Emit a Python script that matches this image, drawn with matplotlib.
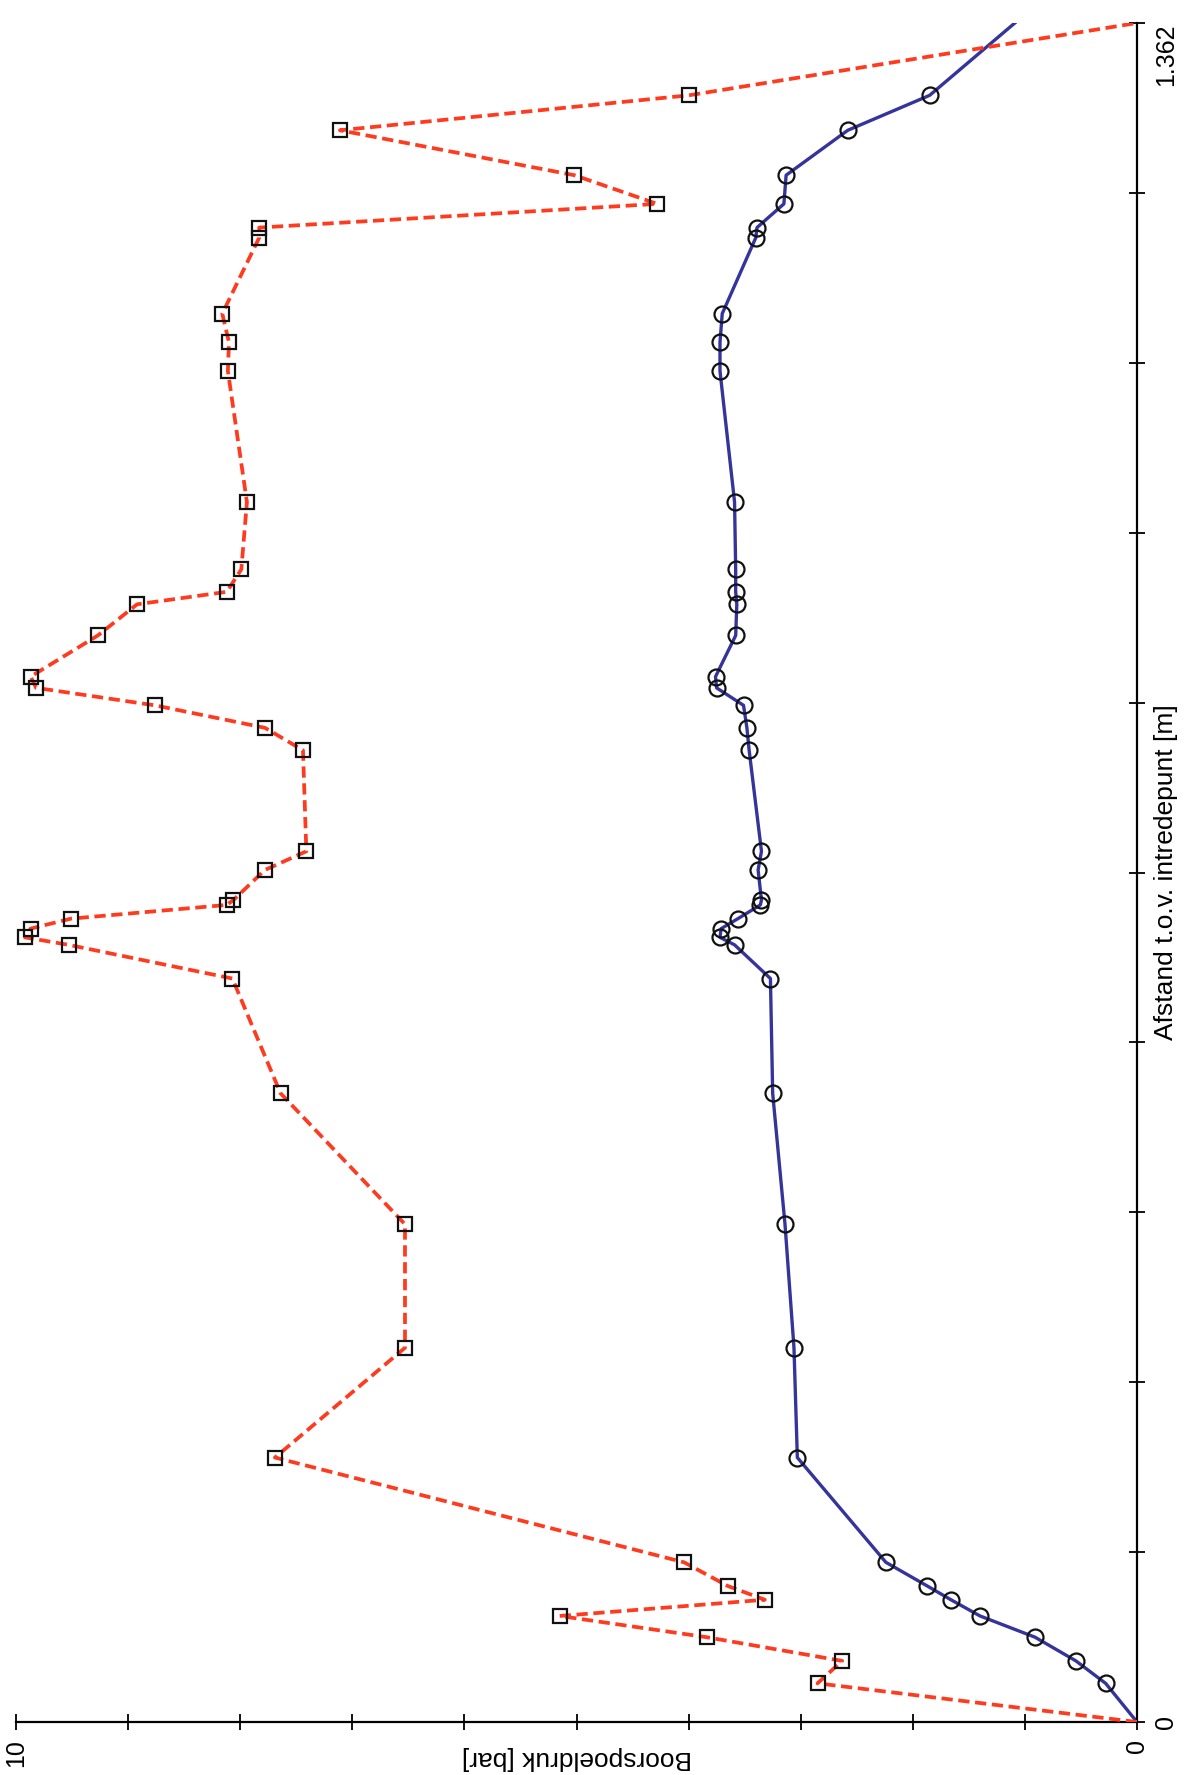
import matplotlib
matplotlib.use("Agg")
import matplotlib.pyplot as plt
from matplotlib.ticker import FixedLocator, FixedFormatter

plt.rcParams['font.family'] = ['Liberation Sans', 'DejaVu Sans']

# afstand t.o.v. intredepunt (gedeeld door beide reeksen)
afstand = [0, 0.031, 0.049, 0.068, 0.085, 0.098, 0.109, 0.128, 0.212, 0.300,
           0.399, 0.504, 0.596, 0.623, 0.629, 0.636, 0.644, 0.655, 0.659, 0.683,
           0.698, 0.779, 0.797, 0.815, 0.829, 0.838, 0.871, 0.896, 0.906, 0.924,
           0.978, 1.083, 1.106, 1.129, 1.190, 1.198, 1.217, 1.240, 1.276, 1.304,
           1.362]

# rode stippellijn (vierkantjes)
druk_max = [0, 2.85, 2.63, 3.84, 5.15, 3.32, 3.65, 4.04, 7.69, 6.53,
            6.53, 7.64, 8.07, 9.53, 9.92, 9.87, 9.51, 8.12, 8.06, 7.78,
            7.41, 7.44, 7.78, 8.76, 9.82, 9.87, 9.27, 8.92, 8.12, 7.99,
            7.94, 8.11, 8.10, 8.16, 7.83, 7.83, 4.28, 5.02, 7.11, 4.00,
            0]

# blauwe lijn (rondjes)
druk = [0, 0.28, 0.545, 0.91, 1.40, 1.66, 1.87, 2.24, 3.03, 3.06,
        3.14, 3.25, 3.27, 3.59, 3.72, 3.71, 3.56, 3.36, 3.35, 3.38,
        3.35, 3.46, 3.48, 3.51, 3.75, 3.76, 3.58, 3.57, 3.58, 3.58,
        3.59, 3.72, 3.72, 3.70, 3.40, 3.39, 3.15, 3.13, 2.58, 1.85,
        1.09]

druk_ticks = list(range(0, 11))
druk_labels = ['0'] + [''] * 9 + ['10']
afstand_max = 1.362
afstand_ticks = [afstand_max * i / 10 for i in range(11)]
afstand_labels = ['0'] + [''] * 9 + ['1.362']

W, H = 1190, 1775
fig = plt.figure(figsize=(W / 100, H / 100), dpi=100)
ax = fig.add_axes([16 / W, (H - 1722) / H, (1137 - 16) / W, (1722 - 23) / H])

ax.plot(druk_max, afstand, color='#ff3b1f', lw=2.7, linestyle=(0, (3.0, 1.5)),
        marker='s', markersize=10, markerfacecolor='none', markeredgecolor='#111111',
        markeredgewidth=1.6, markevery=slice(1, len(afstand) - 1), zorder=3)
ax.plot(druk, afstand, color='#34349a', lw=2.4,
        marker='o', markersize=11.5, markerfacecolor='none', markeredgecolor='#111111',
        markeredgewidth=1.6, markevery=slice(1, len(afstand) - 1), zorder=2)

ax.set_xlim(10, 0)
ax.set_ylim(0, afstand_max)

for s in ['top', 'left']:
    ax.spines[s].set_visible(False)
ax.spines['bottom'].set_linewidth(1.6)
ax.spines['right'].set_linewidth(1.6)

ax.xaxis.set_major_locator(FixedLocator(druk_ticks))
ax.xaxis.set_major_formatter(FixedFormatter(druk_labels))
ax.yaxis.set_major_locator(FixedLocator(afstand_ticks))
ax.yaxis.set_major_formatter(FixedFormatter(afstand_labels))
ax.yaxis.tick_right()
ax.yaxis.set_label_position('right')

ax.tick_params(axis='both', direction='inout', length=12, width=1.3,
               labelsize=18, pad=6)
ax.tick_params(axis='x', labelrotation=90)
ax.tick_params(axis='y', labelrotation=90)
for lab in ax.get_yticklabels():
    lab.set_va('center')
ax.get_yticklabels()[-1].set_va('top')

ax.set_xlabel('Boorspoeldruk [bar]', fontsize=19, rotation=180, va='center')
ax.xaxis.set_label_coords(0.5, -0.021)
ax.set_ylabel('Afstand t.o.v. intredepunt [m]', fontsize=19, rotation=90,
              va='center', ha='center')
ax.yaxis.set_label_coords(1.026, 0.5)

fig.savefig('out.png', dpi=100, facecolor='white')
